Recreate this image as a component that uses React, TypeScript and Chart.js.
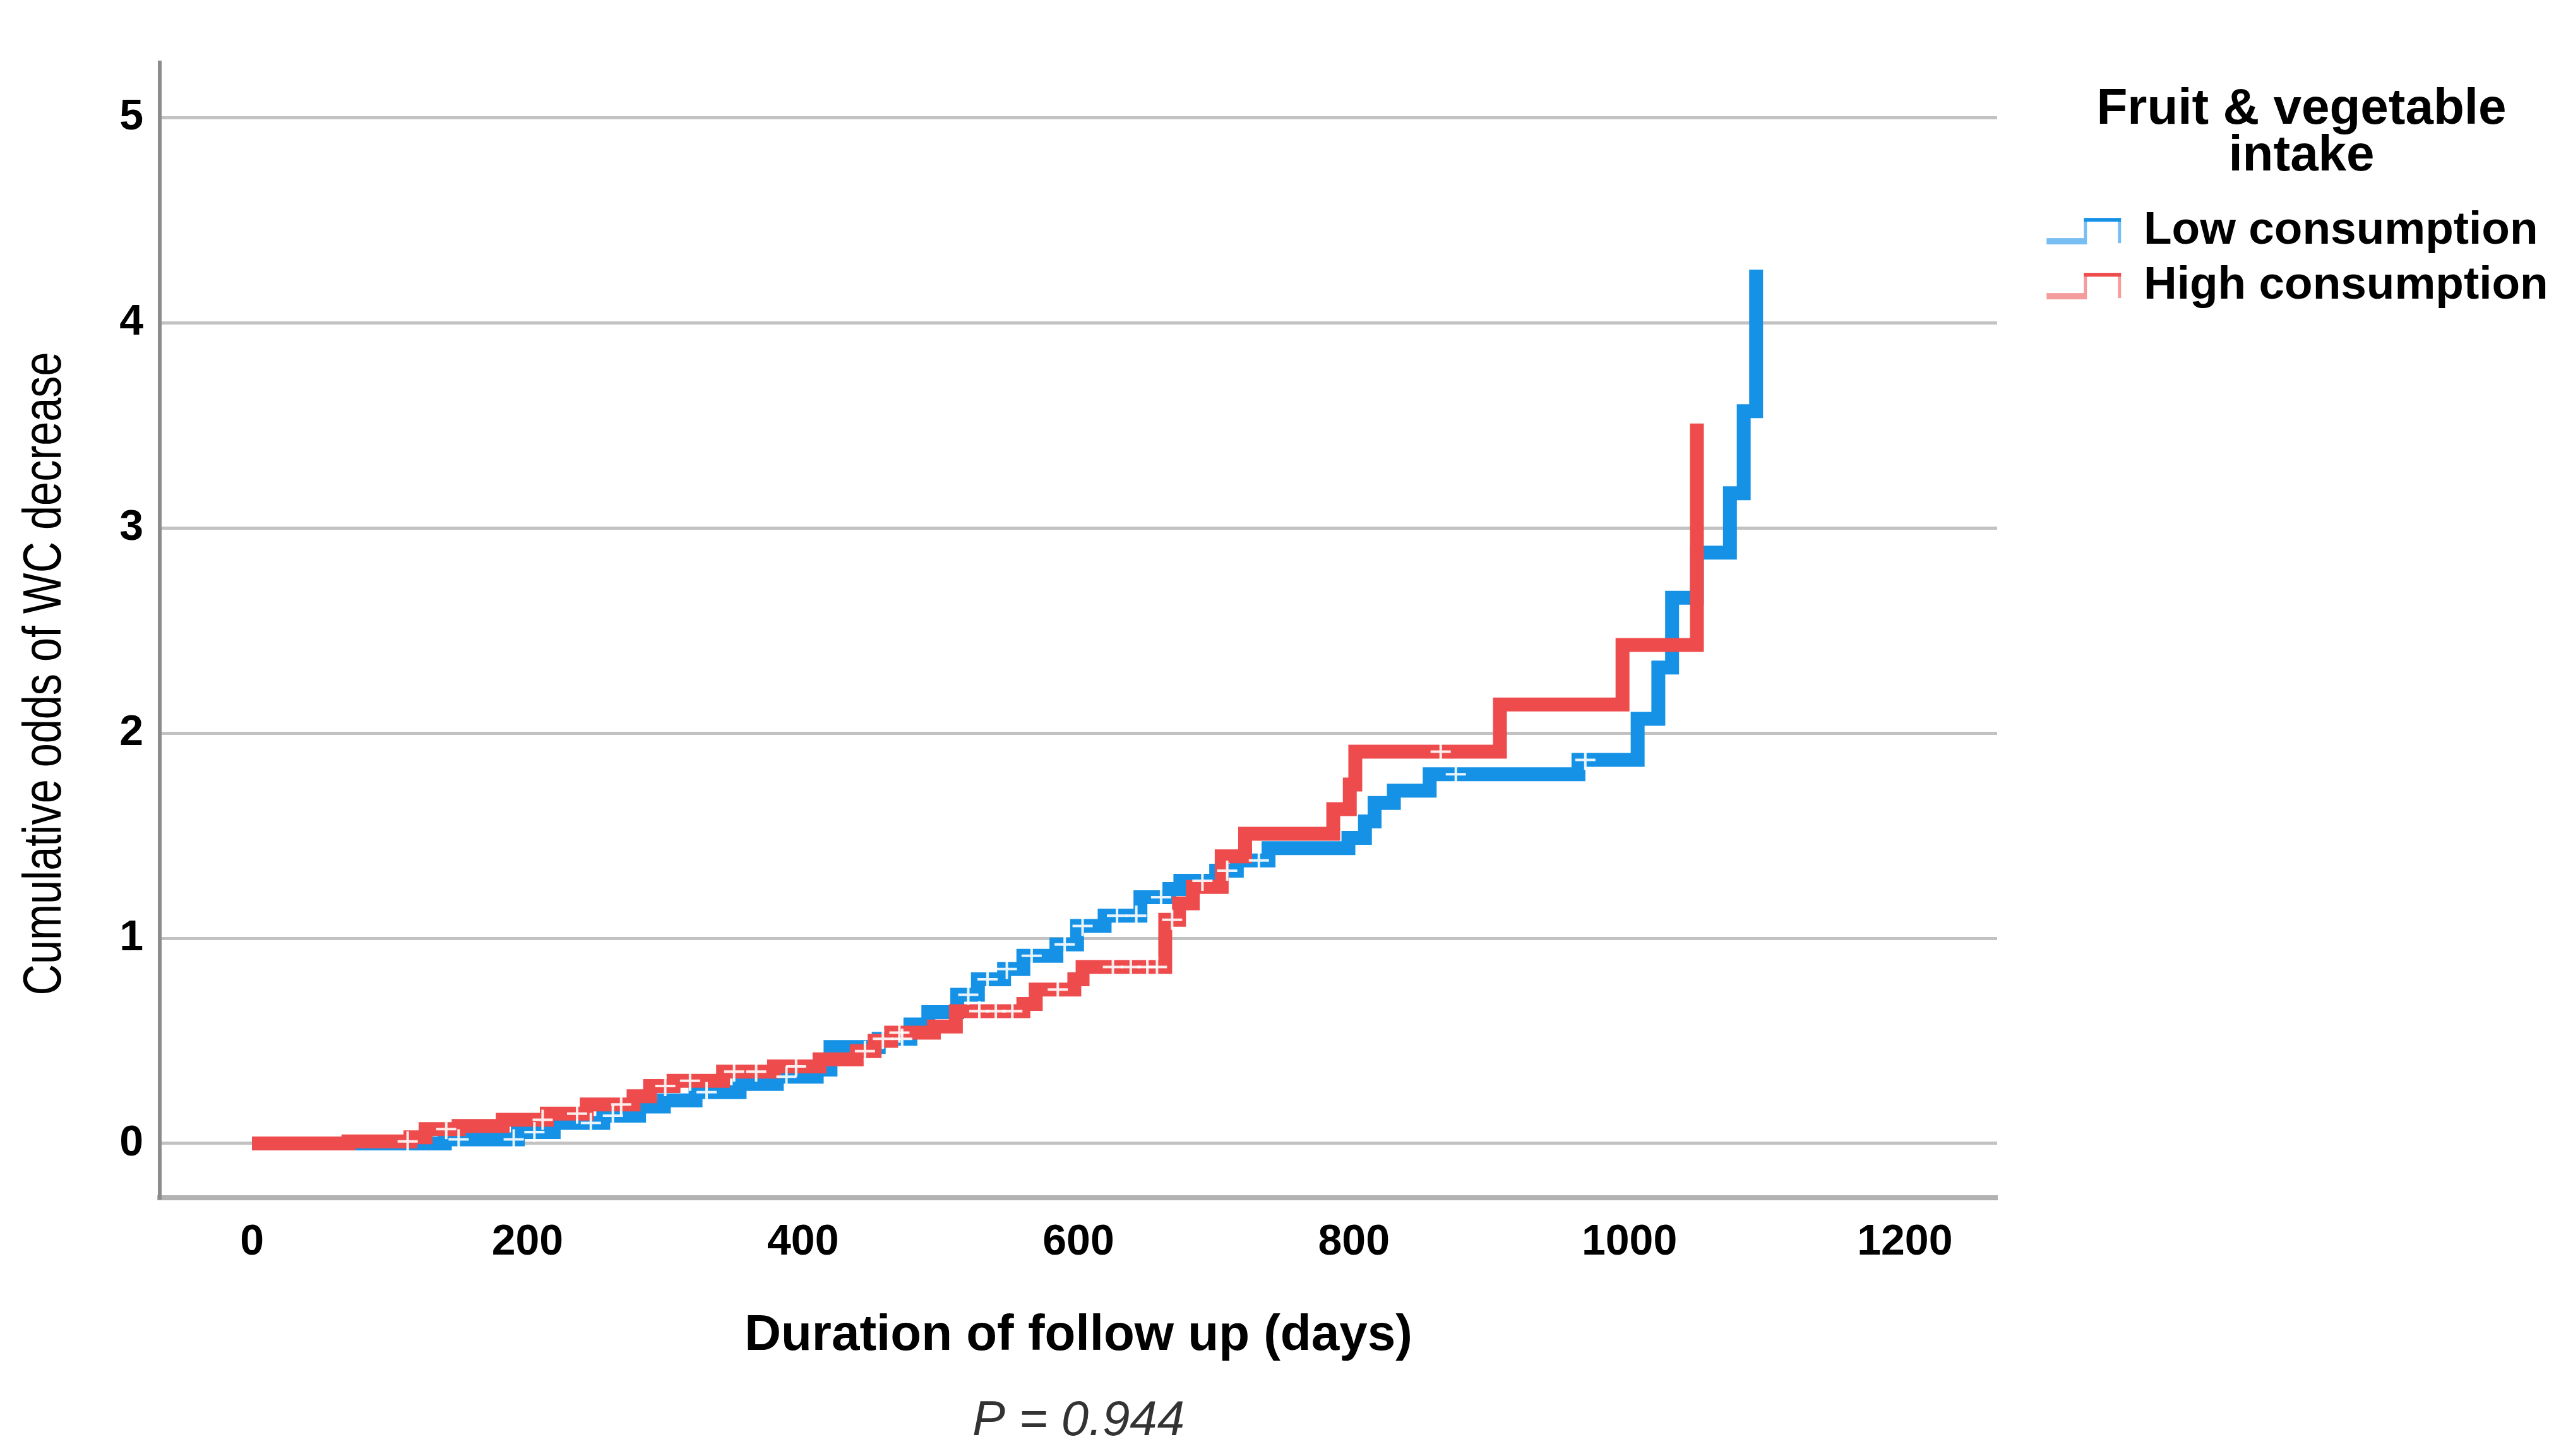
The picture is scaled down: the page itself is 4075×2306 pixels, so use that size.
import React, { useEffect, useRef } from 'react';
import { Chart, registerables } from 'chart.js';

Chart.register(...registerables);

// ---------- data ----------
const lowTimes = [0, 140, 193, 219, 255, 281, 299, 322, 354, 381, 410, 420, 455, 478, 491, 512, 527, 546, 560, 584, 599, 619, 645, 666, 674, 700, 715, 738, 796, 808, 815, 829, 855, 963, 1006, 1021, 1031, 1049, 1073, 1083, 1092];
const lowValues = [0, 0.02, 0.055, 0.10, 0.135, 0.18, 0.21, 0.25, 0.29, 0.325, 0.36, 0.47, 0.51, 0.58, 0.64, 0.725, 0.80, 0.85, 0.915, 0.97, 1.06, 1.11, 1.20, 1.24, 1.28, 1.33, 1.38, 1.44, 1.49, 1.57, 1.66, 1.72, 1.80, 1.87, 2.07, 2.32, 2.66, 2.88, 3.17, 3.57, 4.26];

const highTimes = [0, 70, 115, 126, 150, 182, 214, 243, 277, 289, 306, 342, 379, 412, 439, 452, 464, 495, 511, 560, 569, 597, 603, 663, 673, 683, 704, 721, 785, 797, 801, 906, 995, 1049];
const highValues = [0, 0.01, 0.03, 0.07, 0.085, 0.115, 0.145, 0.19, 0.23, 0.28, 0.305, 0.35, 0.375, 0.41, 0.45, 0.50, 0.54, 0.57, 0.645, 0.68, 0.75, 0.80, 0.86, 1.09, 1.17, 1.25, 1.40, 1.51, 1.63, 1.75, 1.91, 2.14, 2.43, 3.51];

const lowCensored = [150, 190, 205, 246, 262, 330, 388, 458, 472, 520, 534, 548, 566, 590, 603, 628, 642, 660, 690, 708, 731, 874, 968];
const highCensored = [113, 141, 211, 236, 268, 300, 318, 350, 366, 395, 445, 470, 528, 540, 552, 585, 625, 638, 650, 657, 668, 863];

const xTicks = [0, 200, 400, 600, 800, 1000, 1200];
const yTicks = [0, 1, 2, 3, 4, 5];

const seriesLabels = ['Low consumption', 'High consumption'];
const legendTitle = ['Fruit & vegetable', 'intake'];
const xTitle = 'Duration of follow up (days)';
const yTitle = 'Cumulative odds of WC decrease';
const pValueText = 'P = 0.944';

// ---------- styles ----------
const BLUE = '#1592E6';
const BLUE_LIGHT = '#78BEF2';
const RED = '#EE4B4C';
const RED_LIGHT = '#F59C9C';
const SANS = '"Liberation Sans", Arial, sans-serif';

const W = 4075;
const H = 2306;
const PLOT_LEFT = 253;
const PLOT_RIGHT = 3179;
const LEGEND_FONT = 73;
const LEGEND_PAD = 14;
const LEGEND_TEXT_X = 3411;
const LEGEND_TITLE_CX = 3645;

function stepValueAt(times: number[], values: number[], t: number): number {
  let v = values[0];
  for (let i = 0; i < times.length; i++) {
    if (times[i] <= t) v = values[i];
  }
  return v;
}

function makeStepIcon(dark: string, light: string, leftGap: number): HTMLCanvasElement {
  const c = document.createElement('canvas');
  c.width = 120 + leftGap;
  c.height = 46;
  const g = c.getContext('2d') as CanvasRenderingContext2D;
  g.translate(leftGap, 0);
  g.fillStyle = light;
  g.fillRect(0, 34, 64, 10);
  g.fillRect(59, 4, 5, 40);
  g.fillRect(113, 4, 5, 38);
  g.fillStyle = dark;
  g.fillRect(59, 2, 59, 6);
  return c;
}

// draws the condensed y-axis title as canvas text
const yTitlePlugin = {
  id: 'yTitleNarrow',
  afterDraw(chart: any) {
    const ctx = chart.ctx as CanvasRenderingContext2D;
    ctx.save();
    ctx.font = `85px ${SANS}`;
    const w = ctx.measureText(yTitle).width;
    const sx = 1019 / w;
    ctx.translate(72.5, 1067);
    ctx.rotate(-Math.PI / 2);
    ctx.scale(sx, 1);
    ctx.fillStyle = '#000';
    ctx.textAlign = 'center';
    ctx.textBaseline = 'middle';
    ctx.fillText(yTitle, 0, 0);
    ctx.restore();
  },
};

// widens the legend box to the right so its centred title sits where the reference has it
const legendWidthPlugin = {
  id: 'legendWidth',
  afterLayout(chart: any) {
    const lg = chart.legend;
    if (!lg) return;
    const w = 2 * (LEGEND_TITLE_CX - lg.left);
    lg.width = w;
    lg.right = lg.left + w;
  },
};

export default function App() {
  const ref = useRef<HTMLCanvasElement>(null);

  useEffect(() => {
    const canvas = ref.current;
    if (!canvas) return;
    document.body.style.margin = '0';

    // legend geometry
    const mctx = document.createElement('canvas').getContext('2d') as CanvasRenderingContext2D;
    mctx.font = `bold ${LEGEND_FONT}px ${SANS}`;
    const textW = Math.max(...seriesLabels.map((s) => mctx.measureText(s).width));
    const itemLeft = PLOT_RIGHT + LEGEND_PAD;
    const boxW = LEGEND_TEXT_X - itemLeft - LEGEND_FONT / 2;
    const legendWidth = LEGEND_PAD + boxW + LEGEND_FONT / 2 + textW;
    const padRight = Math.max(0, W - PLOT_RIGHT - legendWidth + 6);
    // icon visible part spans 3257..3377; centre of drawn image = itemLeft + boxW/2
    const iconCenter = itemLeft + boxW / 2;
    const leftGap = Math.max(0, Math.round(2 * (3377 - iconCenter) - 120));

    const lowIcon = makeStepIcon(BLUE, BLUE_LIGHT, leftGap);
    const highIcon = makeStepIcon(RED, RED_LIGHT, leftGap);

    const toPoints = (ts: number[], vs: number[]) => ts.map((t, i) => ({ x: t, y: vs[i] }));
    const censorPoints = (cs: number[], ts: number[], vs: number[]) =>
      cs.map((t) => ({ x: t, y: stepValueAt(ts, vs, t) }));

    const chart = new Chart(canvas, {
      type: 'line',
      data: {
        datasets: [
          {
            label: seriesLabels[0],
            data: toPoints(lowTimes, lowValues),
            borderColor: BLUE,
            backgroundColor: BLUE,
            borderWidth: 22,
            stepped: true,
            pointRadius: 0,
            fill: false,
            order: 2,
          },
          {
            label: seriesLabels[1],
            data: toPoints(highTimes, highValues),
            borderColor: RED,
            backgroundColor: RED,
            borderWidth: 22,
            stepped: true,
            pointRadius: 0,
            fill: false,
            order: 1,
          },
          {
            label: 'Low censored',
            data: censorPoints(lowCensored, lowTimes, lowValues),
            showLine: false,
            pointStyle: 'cross',
            pointRadius: 16,
            pointBorderWidth: 4,
            pointBorderColor: 'rgba(255,255,255,0.9)',
            order: 0,
          },
          {
            label: 'High censored',
            data: censorPoints(highCensored, highTimes, highValues),
            showLine: false,
            pointStyle: 'cross',
            pointRadius: 16,
            pointBorderWidth: 4,
            pointBorderColor: 'rgba(255,255,255,0.9)',
            order: 0,
          },
        ],
      },
      options: {
        animation: false,
        responsive: false,
        events: [],
        layout: { padding: { top: 99, left: 0, right: padRight, bottom: 0 } },
        scales: {
          x: {
            type: 'linear',
            min: -67,
            max: 1267,
            afterBuildTicks: (s: any) => {
              s.ticks = xTicks.map((v) => ({ value: v }));
            },
            afterFit: (s: any) => {
              s.height = 297.4;
            },
            ticks: {
              callback: (v: any) => String(v),
              font: { family: SANS, size: 68, weight: 'bold' },
              color: '#000',
              padding: 30,
              maxRotation: 0,
            },
            grid: { display: false, drawTicks: false },
            border: { display: true, color: '#B2B2B2', width: 8 },
            title: {
              display: true,
              text: xTitle,
              font: { family: SANS, size: 80, weight: 'bold' },
              color: '#000',
              padding: { top: 60, bottom: 30 },
            },
          },
          y: {
            type: 'linear',
            min: -0.265,
            max: 5.27,
            afterBuildTicks: (s: any) => {
              s.ticks = yTicks.map((v) => ({ value: v }));
            },
            afterFit: (s: any) => {
              s.width = PLOT_LEFT;
            },
            ticks: {
              callback: (v: any) => String(v),
              font: { family: SANS, size: 68, weight: 'bold' },
              color: '#000',
              padding: 26,
            },
            grid: { color: '#C2C2C2', lineWidth: 5, drawTicks: false },
            border: { display: true, color: '#8C8C8C', width: 6 },
            title: { display: false, text: yTitle },
          },
        },
        plugins: {
          tooltip: { enabled: false },
          legend: {
            display: true,
            position: 'right',
            align: 'start',
            title: {
              display: true,
              text: legendTitle as any,
              position: 'center',
              color: '#000',
              font: { family: SANS, size: 80, weight: 'bold', lineHeight: 0.92 },
              padding: { top: 35, bottom: 108 },
            },
            labels: {
              usePointStyle: true,
              pointStyleWidth: boxW,
              padding: LEGEND_PAD,
              color: '#000',
              font: { family: SANS, size: LEGEND_FONT, weight: 'bold' },
              generateLabels: () => [
                {
                  text: seriesLabels[0],
                  pointStyle: lowIcon as any,
                  datasetIndex: 0,
                  fillStyle: 'rgba(0,0,0,0)',
                  strokeStyle: 'rgba(0,0,0,0)',
                  lineWidth: 0,
                  hidden: false,
                  fontColor: '#000',
                },
                {
                  text: seriesLabels[1],
                  pointStyle: highIcon as any,
                  datasetIndex: 1,
                  fillStyle: 'rgba(0,0,0,0)',
                  strokeStyle: 'rgba(0,0,0,0)',
                  lineWidth: 0,
                  hidden: false,
                  fontColor: '#000',
                },
              ],
            },
          },
          title: {
            display: true,
            position: 'bottom',
            fullSize: false,
            text: pValueText,
            color: '#333',
            font: { family: SANS, size: 78, weight: 'normal', style: 'italic' },
            padding: { top: 10, bottom: 8 },
          },
        },
      },
      plugins: [yTitlePlugin, legendWidthPlugin],
    } as any);

    return () => chart.destroy();
  }, []);

  return (
    <div style={{ position: 'absolute', left: 0, top: 0, width: W, height: H, background: '#fff' }}>
      <canvas ref={ref} width={W} height={H} style={{ display: 'block', width: W, height: H }} />
    </div>
  );
}
